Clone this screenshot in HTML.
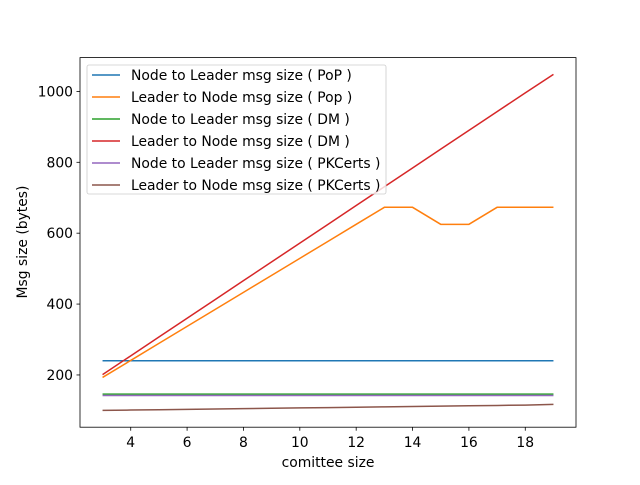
<!DOCTYPE html>
<html><head><meta charset="utf-8"><style>
body{margin:0;background:#fff;}
svg text{font-family:"DejaVu Sans","Liberation Sans",sans-serif;fill:#000;}
</style></head><body>
<svg id="chart" width="640" height="480" xmlns="http://www.w3.org/2000/svg">
<rect width="640" height="480" fill="#fff"/>
<g id="plot"></g>
</svg>
<script>
const xs = [3,4,5,6,7,8,9,10,11,12,13,14,15,16,17,18,19];
const popN2L = [240,240,240,240,240,240,240,240,240,240,240,240,240,240,240,240,240];
const popL2N = [193,241,289,337,385,433,481,529,577,625,673,673,625,625,673,673,673];
const dmN2L = [146,146,146,146,146,146,146,146,146,146,146,146,146,146,146,146,146];
const dmL2N = [201,254,307,360,413,466,519,572,625,678,731,784,837,890,943,996,1048];
const pkN2L = [142,142,142,142,142,142,142,142,142,142,142,142,142,142,142,142,142];
const pkL2N = [100,101,102,103,104,105,106,107,108,109,110,111,112,113,114,115,117];
const xTicks = [4,6,8,10,12,14,16,18];
const yTicks = [200,400,600,800,1000];
const seriesNames = ["Node to Leader msg size ( PoP )","Leader to Node msg size ( Pop )","Node to Leader msg size ( DM )","Leader to Node msg size ( DM )","Node to Leader msg size ( PKCerts )","Leader to Node msg size ( PKCerts )"];

const L=80,R=576,T=57.6,B=427.2, XMIN=2.2,XMAX=19.8,YMIN=52.6,YMAX=1095.4;
const FS=13.9;
const sx=v=>L+(v-XMIN)/(XMAX-XMIN)*(R-L);
const sy=v=>B-(v-YMIN)/(YMAX-YMIN)*(B-T);
const NS="http://www.w3.org/2000/svg";
const g=document.getElementById('plot');
function mk(t,a,p){const e=document.createElementNS(NS,t);for(const k in a)e.setAttribute(k,a[k]);(p||g).appendChild(e);return e;}

const series=[
 {d:popN2L,c:"#1f77b4",n:"series-pop-node-to-leader"},
 {d:popL2N,c:"#ff7f0e",n:"series-pop-leader-to-node"},
 {d:dmN2L,c:"#2ca02c",n:"series-dm-node-to-leader"},
 {d:dmL2N,c:"#d62728",n:"series-dm-leader-to-node"},
 {d:pkN2L,c:"#9467bd",n:"series-pkcerts-node-to-leader"},
 {d:pkL2N,c:"#8c564b",n:"series-pkcerts-leader-to-node"}];
series.forEach(s=>{
 const p=mk('polyline',{points:s.d.map((v,i)=>sx(xs[i])+','+sy(v)).join(' '),fill:'none',stroke:s.c,'stroke-width':1.5});
 
 
});
const frame=mk('rect',{x:L,y:T,width:R-L,height:B-T,fill:'none',stroke:'#000','stroke-width':0.8});


xTicks.forEach(t=>{
 const x=sx(t);
 mk('line',{x1:x,x2:x,y1:B,y2:B+3.5,stroke:'#000','stroke-width':0.8});
 const tx=mk('text',{x:x,y:B+20,'text-anchor':'middle','font-size':FS});
 tx.textContent=t;
 
 
});
yTicks.forEach(t=>{
 const y=sy(t);
 mk('line',{x1:L-3.5,x2:L,y1:y,y2:y,stroke:'#000','stroke-width':0.8});
 const tx=mk('text',{x:L-7,y:y+5,'text-anchor':'end','font-size':FS});
 tx.textContent=t;
 
 
});
const xt=mk('text',{x:(L+R)/2,y:467,'text-anchor':'middle','font-size':FS});
xt.textContent='comittee size';


const yt=mk('text',{x:0,y:0,'text-anchor':'middle','font-size':FS,transform:'translate(27,242) rotate(-90)'});
yt.textContent='Msg size (bytes)';


const lg=mk('g',{});


mk('rect',{x:87,y:65,width:299,height:129,rx:2,fill:'#fff','fill-opacity':0.8,stroke:'#ccc','stroke-width':0.8},lg);
seriesNames.forEach((n,i)=>{
 const y=75+i*22;
 const e=mk('g',{},lg);
 
 
 mk('line',{x1:92,x2:120,y1:y,y2:y,stroke:series[i].c,'stroke-width':1.5},e);
 const t=mk('text',{x:131,y:y+5,'font-size':FS},e);
 t.textContent=n;
});
</script>
</body></html>
